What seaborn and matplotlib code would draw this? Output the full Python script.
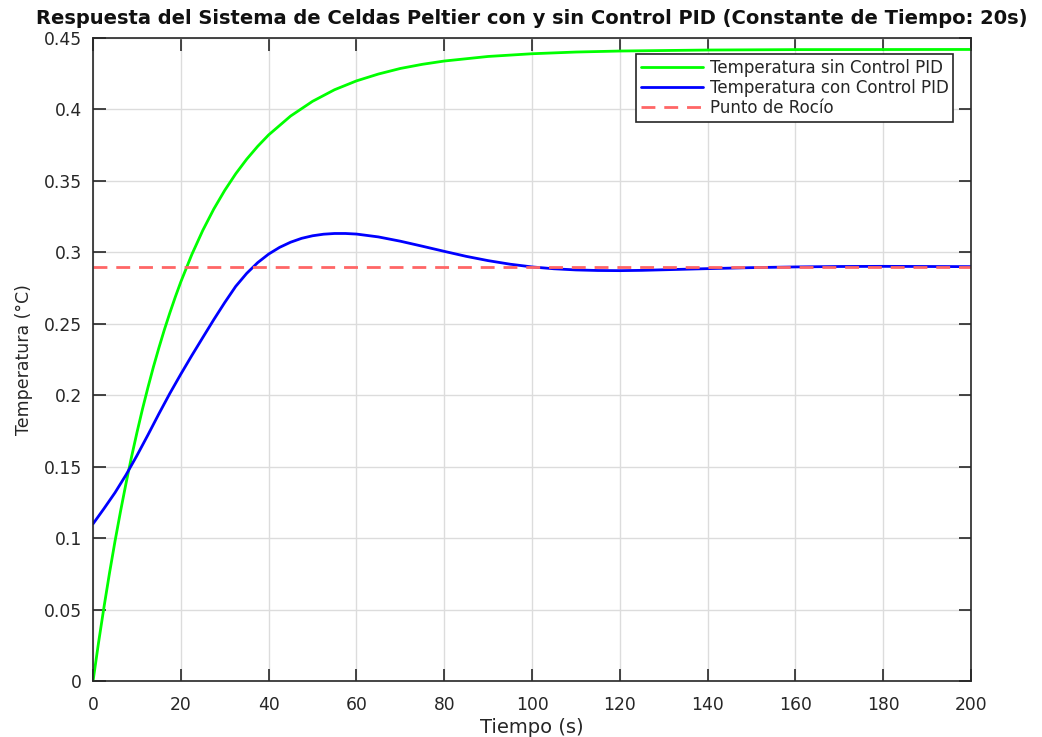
import numpy as np
import pandas as pd
import matplotlib
matplotlib.use("Agg")
import matplotlib.pyplot as plt
import seaborn as sns

# ---- data ----
t_sin = [0, 1.25, 2.5, 3.75, 5, 6.25, 7.5, 8.75, 10, 11.25, 12.5, 13.75, 15, 16.25, 17.5,
         18.75, 20, 22.5, 25, 27.5, 30, 32.5, 35, 37.5, 40, 45, 50, 55, 60, 65, 70, 75,
         80, 90, 100, 110, 120, 140, 160, 200]
y_sin = [0.0000, 0.0268, 0.0519, 0.0756, 0.0978, 0.1186, 0.1382, 0.1566, 0.1739, 0.1902,
         0.2054, 0.2198, 0.2332, 0.2459, 0.2577, 0.2689, 0.2794, 0.2985, 0.3154, 0.3303,
         0.3434, 0.3550, 0.3652, 0.3742, 0.3822, 0.3954, 0.4057, 0.4138, 0.4200, 0.4248,
         0.4287, 0.4316, 0.4339, 0.4371, 0.4390, 0.4402, 0.4409, 0.4416, 0.4419, 0.4420]

t_con = [0, 2.5, 5, 7.5, 10, 12.5, 15, 17.5, 20, 22.5, 25, 27.5, 30, 32.5, 35, 37.5, 40,
         42.5, 45, 47.5, 50, 52.5, 55, 57.5, 60, 65, 70, 75, 80, 85, 90, 95, 100, 105,
         110, 115, 120, 125, 130, 140, 150, 160, 170, 180, 190, 200]
y_con = [0.1100, 0.1207, 0.1318, 0.1442, 0.1578, 0.1722, 0.1870, 0.2013, 0.2148, 0.2278,
         0.2404, 0.2529, 0.2649, 0.2762, 0.2853, 0.2928, 0.2988, 0.3035, 0.3071, 0.3098,
         0.3116, 0.3127, 0.3132, 0.3132, 0.3128, 0.3108, 0.3078, 0.3043, 0.3007, 0.2972,
         0.2942, 0.2917, 0.2898, 0.2885, 0.2877, 0.2873, 0.2872, 0.2874, 0.2878, 0.2886,
         0.2893, 0.2898, 0.2901, 0.2902, 0.2901, 0.2900]

dew_point = 0.29
x_ticks = list(range(0, 201, 20))
y_ticks = [0, 0.05, 0.1, 0.15, 0.2, 0.25, 0.3, 0.35, 0.4, 0.45]
y_ticklabels = ["0", "0.05", "0.1", "0.15", "0.2", "0.25", "0.3", "0.35", "0.4", "0.45"]

title = "Respuesta del Sistema de Celdas Peltier con y sin Control PID (Constante de Tiempo: 20s)"
labels = ["Temperatura sin Control PID", "Temperatura con Control PID", "Punto de Rocío"]

sns.set_theme(style="whitegrid")
plt.rcParams["font.family"] = ["DejaVu Sans"]

fig = plt.figure(figsize=(10.42, 7.37), dpi=100)
ax = fig.add_axes([0.0893, 0.076, 0.8426, 0.8724])
ax.set_facecolor("white")

sns.lineplot(x=t_sin, y=y_sin, ax=ax, color="#00ff00", linewidth=2, label=labels[0])
sns.lineplot(x=t_con, y=y_con, ax=ax, color="#0000ff", linewidth=2, label=labels[1])
ax.axhline(dew_point, color="#ff6666", linestyle=(0, (5, 3.2)), linewidth=2, label=labels[2])

ax.set_xlim(0, 200)
ax.set_ylim(0, 0.45)
ax.set_xticks(x_ticks)
ax.set_yticks(y_ticks)
ax.set_yticklabels(y_ticklabels)

ax.grid(True, color="#dcdcdc", linewidth=1)
for s in ax.spines.values():
    s.set_visible(True)
    s.set_color("#262626")
    s.set_linewidth(1.2)

ax.tick_params(axis="both", direction="in", length=9, width=1.2, color="#262626",
               labelsize=12.3, labelcolor="#262626", top=True, right=True,
               bottom=True, left=True)
ax.tick_params(axis="x", pad=11)
ax.tick_params(axis="y", pad=8)

ax.set_xlabel("Tiempo (s)", fontsize=14, color="#262626", labelpad=3)
ax.set_ylabel("Temperatura (°C)", fontsize=12.5, color="#262626", labelpad=8)
ax.set_title(title, fontsize=14, fontweight="bold", color="#111111", pad=10)

leg = ax.legend(loc="upper right", bbox_to_anchor=(0.980, 0.975), fontsize=12,
                frameon=True, fancybox=False, edgecolor="#262626", framealpha=1,
                borderpad=0.3, labelspacing=0.12, handlelength=3.7, handletextpad=0.4,
                borderaxespad=0)
leg.get_frame().set_linewidth(1.2)

fig.savefig("out.png", dpi=100)
